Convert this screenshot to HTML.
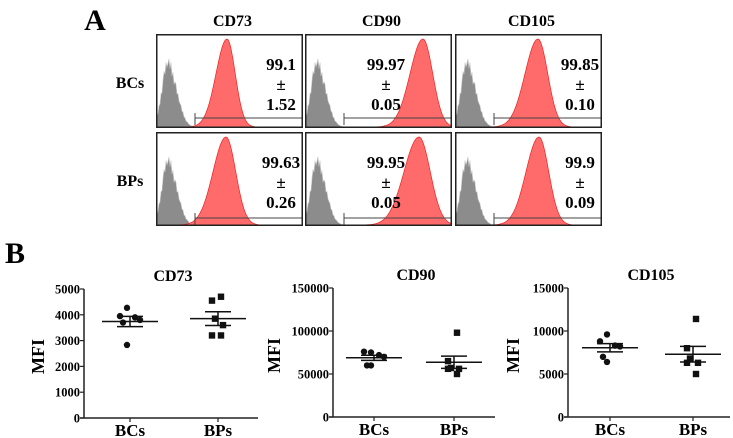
<!DOCTYPE html>
<html><head><meta charset="utf-8"><style>
html,body{margin:0;padding:0;background:#fff;}
svg{display:block;font-family:"Liberation Serif",serif;font-weight:bold;}
</style></head><body>
<svg id="fig" width="733" height="438" viewBox="0 0 733 438"></svg>
<script>
// ---- Panel A data ----
const markers = ["CD73","CD90","CD105"];
const rows = ["BCs","BPs"];
const pctMean = [["99.1","99.97","99.85"],["99.63","99.95","99.9"]];
const pctSd = [["1.52","0.05","0.10"],["0.26","0.05","0.09"]];
const redPeak = [[71,118,83],[70,114,84]];
const redWidth = [[11,13,13],[13,15,13]];
// ---- Panel B data ----
const groups = ["BCs","BPs"];
const cd73Ticks = [0,1000,2000,3000,4000,5000];
const cd90Ticks = [0,50000,100000,150000];
const cd105Ticks = [0,5000,10000,15000];
const cd73BCs = [4270,3950,3900,3800,3700,2830];
const cd73BPs = [4700,4550,3850,3600,3200,3200];
const cd90BCs = [75000,76000,72000,70000,60000,60000];
const cd90BPs = [98000,65000,57000,56000,56000,50000];
const cd105BCs = [9600,8800,8300,8200,7000,6400];
const cd105BPs = [11400,8000,6800,6300,6300,5000];
const jitter = [[-3,-10,5,10,-7,-3],[3,-6,-3,5,-6,3]];

const NS="http://www.w3.org/2000/svg";
const svg=document.getElementById('fig');
function el(tag,attrs,parent){const e=document.createElementNS(NS,tag);for(const k in attrs)e.setAttribute(k,attrs[k]);(parent||svg).appendChild(e);return e;}
function txt(s,x,y,size,anchor,parent){const t=el('text',{x:x,y:y,'font-size':size,'text-anchor':anchor||'middle'},parent);t.textContent=s;return t;}

let t=txt("A",95,30,30,'middle');


t=txt("B",15,263,30,'middle');



const panelX=[156,305,455], panelY=[34,132], pw=147, ph=94;
markers.forEach((m,j)=>{
  const h=txt(m,panelX[j]+pw/2+3,26,16,'middle');
  
  
});
rows.forEach((r,i)=>{
  const l=txt(r,130,panelY[i]+ph/2+7,16,'middle');
  
  
});
function gauss(x,c,w){return Math.exp(-0.5*((x-c)/w)**2);}
const noise=[0,.08,-.05,.1,-.08,.06,-.1,.04,.09,-.06,.07,-.04];
rows.forEach((r,i)=>{markers.forEach((m,j)=>{
  const g=el('g',{transform:`translate(${panelX[j]},${panelY[i]})`});
  
  
  const base=ph-1;
  let d=`M1 ${base}`;
  for(let x=1;x<=42;x++){let y=0.5*gauss(x,10,5)+0.5*gauss(x,17,7);y*=1+noise[x%12];d+=` L${x} ${base-y*75}`;}
  d+=` L42 ${base} Z`;
  const gp=el('path',{d:d,fill:'#8c8c8c',stroke:'#c8c8c8','stroke-width':0.6},g);
  
  
  const c=redPeak[i][j], w=redWidth[i][j];
  let d2=`M${c-4*w} ${base}`;
  for(let x=c-4*w;x<=Math.min(c+3*w,pw-1);x++){const y=x<c?gauss(x,c,w):gauss(x,c,w*0.75);d2+=` L${x} ${base-y*88}`;}
  d2+=` L${Math.min(c+3*w,pw-1)} ${base} Z`;
  const rp=el('path',{d:d2,fill:'#ff6b6b',stroke:'#ee2020','stroke-width':0.7},g);
  
  
  const gy=i===0?84:86;
  const gate=el('path',{d:`M39 ${gy-5} L39 ${gy+7} M39 ${gy} L${pw} ${gy}`,stroke:'#444','stroke-width':1,fill:'none'},g);
  
  
  el('rect',{x:0.75,y:0.75,width:pw-1.5,height:ph-1.5,fill:'none',stroke:'#222','stroke-width':1.5},g);
  const tx=j===1?81:125;
  [pctMean[i][j],"±",pctSd[i][j]].forEach((s,k)=>{
    const tt=txt(s,tx,36+k*20,17,'middle',g);
    
    
  });
});});

const plots=[
 {name:'cd73',title:'CD73',ax:84,end:258,top:289,bot:418,ticks:cd73Ticks,max:5000,data:[cd73BCs,cd73BPs],gx:[130,218],yl:44},
 {name:'cd90',title:'CD90',ax:333,end:495,top:288,bot:417,ticks:cd90Ticks,max:150000,data:[cd90BCs,cd90BPs],gx:[374,454],yl:280},
 {name:'cd105',title:'CD105',ax:568,end:730,top:288,bot:417,ticks:cd105Ticks,max:15000,data:[cd105BCs,cd105BPs],gx:[610,693],yl:519}
];
plots.forEach(p=>{
  const g=el('g',{});
  
  
  const ys=v=>p.bot-v/p.max*(p.bot-p.top);
  const tt=txt(p.title,(p.ax+p.end)/2+2,p.top-8,16,'middle',g);
  
  
  const ya=el('line',{x1:p.ax,y1:p.top,x2:p.ax,y2:p.bot,stroke:'#222','stroke-width':1.5},g);
  
  
  const xa=el('line',{x1:p.ax-4,y1:p.bot,x2:p.end,y2:p.bot,stroke:'#222','stroke-width':1.5},g);
  
  
  p.ticks.forEach(v=>{
    el('line',{x1:p.ax-4,y1:ys(v),x2:p.ax,y2:ys(v),stroke:'#222','stroke-width':1.2},g);
    const l=txt(String(v),p.ax-4,ys(v)+4.5,12.5,'end',g);
    
    
  });
  const yl=el('text',{x:0,y:0,'font-size':18,'text-anchor':'middle',transform:`translate(${p.yl},${(p.top+p.bot)/2+3}) rotate(-90)`},g);
  yl.textContent='MFI';
  
  
  groups.forEach((gn,k)=>{
    const cx=p.gx[k];
    el('line',{x1:cx,y1:p.bot,x2:cx,y2:p.bot+4,stroke:'#222','stroke-width':1.2},g);
    const xl=txt(gn,cx,p.bot+18,17,'middle',g);
    
    
    const vals=p.data[k];
    const n=vals.length, mean=vals.reduce((a,b)=>a+b,0)/n;
    const sd=Math.sqrt(vals.reduce((a,b)=>a+(b-mean)**2,0)/(n-1)), sem=sd/Math.sqrt(n);
    vals.forEach((v,q)=>{
      const x=cx+jitter[k][q], y=ys(v);
      let m;
      if(k===0) m=el('circle',{cx:x,cy:y,r:3.2,fill:'#111'},g);
      else m=el('rect',{x:x-3.2,y:y-3.2,width:6.4,height:6.4,fill:'#111'},g);
      
      
    });
    const ml=el('line',{x1:cx-28,y1:ys(mean),x2:cx+28,y2:ys(mean),stroke:'#111','stroke-width':1.5},g);
    
    
    const eb=el('path',{d:`M${cx} ${ys(mean+sem)} L${cx} ${ys(mean-sem)} M${cx-13} ${ys(mean+sem)} L${cx+13} ${ys(mean+sem)} M${cx-13} ${ys(mean-sem)} L${cx+13} ${ys(mean-sem)}`,stroke:'#111','stroke-width':1.5,fill:'none'},g);
    
    
  });
});
</script>
</body></html>
